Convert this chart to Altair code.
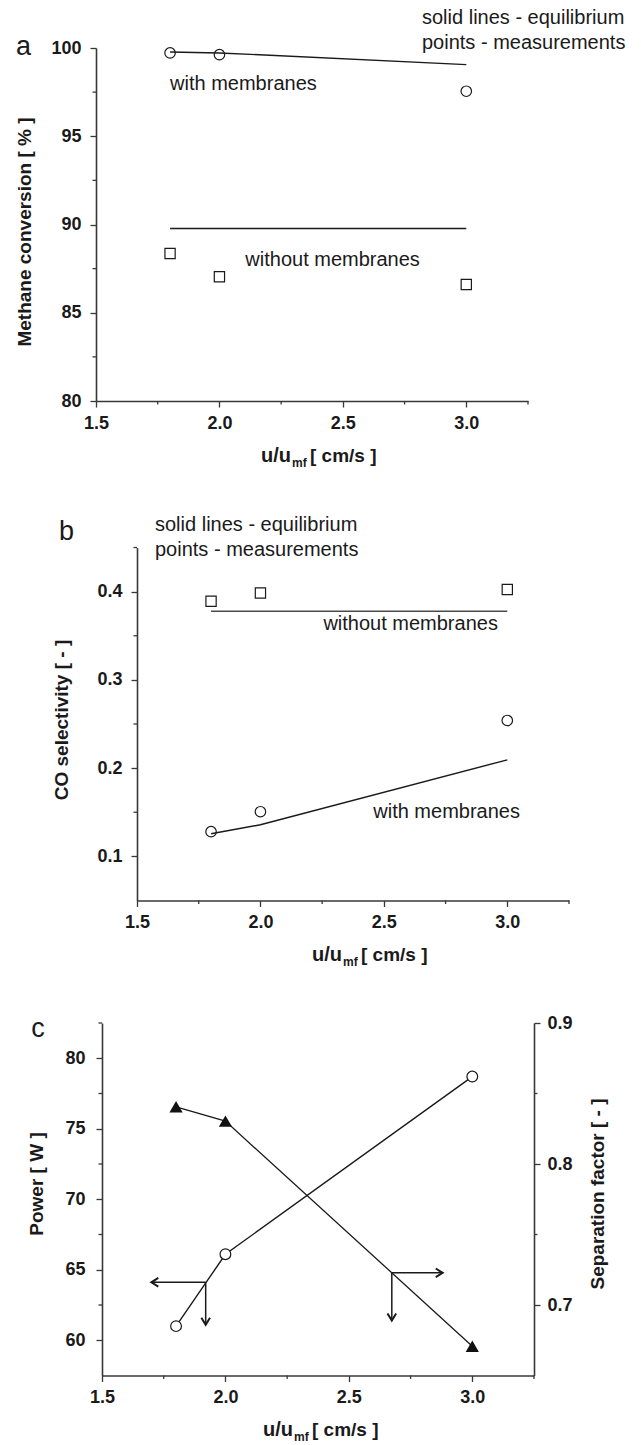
import altair as alt
import pandas as pd

# ------------------------------------------------------------------ data
u_values = [1.8, 2.0, 3.0]

# panel a - methane conversion [%]
conv_meas_with = [99.72, 99.62, 97.55]
conv_eq_with = [99.77, 99.72, 99.06]
conv_meas_without = [88.36, 87.04, 86.60]
conv_eq_without = [89.77, 89.77, 89.77]

# panel b - CO selectivity [-]
cosel_meas_without = [0.389, 0.3985, 0.4023]
cosel_eq_without = [0.3777, 0.3777, 0.3777]
cosel_meas_with = [0.128, 0.1506, 0.254]
cosel_eq_with = [0.1257, 0.1358, 0.2094]

# panel c - power [W] (left) and separation factor [-] (right)
power_w = [61.0, 66.1, 78.7]
separation_factor = [0.8406, 0.8304, 0.6708]

# axis-pointer arrows in panel c (power units)
arrow_x_start = [1.92, 1.92, 2.674, 2.674]
arrow_x_end = [1.70, 1.92, 2.88, 2.674]
arrow_y_start = [64.11, 64.11, 64.78, 64.78]
arrow_y_end = [64.11, 61.10, 64.78, 61.40]
arrow_dir = ["left", "down", "right", "down"]

# ticks
x_major = [1.5, 2.0, 2.5, 3.0]
x_minor = [1.75, 2.25, 2.75, 3.25]
a_major = [80, 85, 90, 95, 100]
a_minor = [82.5, 87.5, 92.5, 97.5]
b_major = [0.1, 0.2, 0.3, 0.4]
b_minor = [0.15, 0.25, 0.35, 0.45]
c_major = [60, 65, 70, 75, 80]
c_minor = [62.5, 67.5, 72.5, 77.5, 82.5]
r_major = [0.7, 0.8, 0.9]
r_minor = [0.75, 0.85]

# ------------------------------------------------------------------ layout / style
W, H = 641, 1445
FONT = "Liberation Sans"
INK = "#1a1a1a"
AXC = "#383838"

PA = dict(x0=96, x1=528, top=48, bot=401)
PB = dict(x0=137, x1=569, top=547.5, bot=900.5)
PC = dict(x0=102, x1=534, top=1023, bot=1375.5)

one = pd.DataFrame({"_": [0]})


def xscale(p):
    return alt.Scale(domain=[1.5, 3.25], range=[p["x0"], p["x1"]], nice=False, zero=False)


def yscale(p, dom):
    return alt.Scale(domain=dom, range=[p["bot"], p["top"]], nice=False, zero=False)


def x_axis(p):
    return alt.Axis(orient="bottom", offset=p["bot"] - H, values=x_major, format=".1f",
                    title=None, grid=False, labelFlush=False, labelOverlap=False,
                    tickSize=6, tickWidth=1.3, tickColor=AXC,
                    domainColor=AXC, domainWidth=1.6, labelPadding=7,
                    labelFont=FONT, labelFontSize=18, labelFontWeight="bold", labelColor=INK)


def y_axis(p, values, fmt, side="left", pad=9):
    off = -p["x0"] if side == "left" else p["x1"] - W
    return alt.Axis(orient=side, offset=off, values=values, format=fmt, title=None,
                    grid=False, labelFlush=False, labelOverlap=False,
                    tickSize=6, tickWidth=1.3, tickColor=AXC,
                    domainColor=AXC, domainWidth=1.6, labelPadding=pad,
                    labelFont=FONT, labelFontSize=18, labelFontWeight="bold", labelColor=INK)


def series(ys):
    return pd.DataFrame({"u": u_values, "v": ys})


def panel_layers(p, sx, ax, sy, ay, lines, circles, squares, minor_y, side="left",
                 with_x_minor=True):
    X = alt.X("u:Q", scale=sx, axis=ax)
    Y = alt.Y("v:Q", scale=sy, axis=ay)
    layers = []
    for ys, col in lines:
        layers.append(alt.Chart(series(ys)).mark_line(color=col, strokeWidth=1.4)
                      .encode(x=X, y=Y))
    for ys in circles:
        layers.append(alt.Chart(series(ys)).mark_point(shape="circle", filled=False, size=110,
                                                       stroke=INK, strokeWidth=1.2, opacity=1)
                      .encode(x=X, y=Y))
    for ys in squares:
        layers.append(alt.Chart(series(ys)).mark_point(shape="square", filled=False, size=105,
                                                       stroke=INK, strokeWidth=1.2, opacity=1)
                      .encode(x=X, y=Y))
    # minor ticks on the value axis
    if side == "left":
        xa, xb = p["x0"] - 3.5, p["x0"]
    else:
        xa, xb = p["x1"], p["x1"] + 3.5
    layers.append(alt.Chart(pd.DataFrame({"v": minor_y})).mark_rule(color=AXC, strokeWidth=1.3)
                  .encode(y=Y, x=alt.value(xa), x2=alt.value(xb)))
    if with_x_minor:
        layers.append(alt.Chart(pd.DataFrame({"u": x_minor})).mark_rule(color=AXC, strokeWidth=1.3)
                      .encode(x=X, y=alt.value(p["bot"]), y2=alt.value(p["bot"] + 3.5)))
    return layers


def data_text(txt, xv, yv, sx, ax, sy, ay, size=20, align="left"):
    return alt.Chart(one).mark_text(text=txt, font=FONT, fontSize=size, color=INK,
                                    align=align, baseline="middle").encode(
        x=alt.XDatum(xv, scale=sx, axis=ax, type="quantitative"),
        y=alt.YDatum(yv, scale=sy, axis=ay, type="quantitative"))


def px_text(txt, x, y, size=20, weight="normal", align="left", baseline="middle", angle=0):
    return alt.Chart(one).mark_text(text=txt, font=FONT, fontSize=size, fontWeight=weight,
                                    color=INK, align=align, baseline=baseline,
                                    angle=angle).encode(x=alt.value(x), y=alt.value(y))


def x_title(x0, y):
    return [
        px_text("u/u", x0 + 37, y, size=20, weight="bold", align="right"),
        px_text("mf", x0 + 38, y + 7, size=12, weight="bold"),
        px_text("[ cm/s ]", x0 + 56, y, size=19, weight="bold"),
    ]


# ------------------------------------------------------------------ panel a
sxa, sya = xscale(PA), yscale(PA, [80, 100])
axa, aya = x_axis(PA), y_axis(PA, a_major, "d")
pa = alt.layer(
    *panel_layers(PA, sxa, axa, sya, aya,
                  lines=[(conv_eq_with, INK), (conv_eq_without, INK)],
                  circles=[conv_meas_with], squares=[conv_meas_without], minor_y=a_minor),
    data_text("with membranes", 1.8, 97.98, sxa, axa, sya, aya),
    data_text("without membranes", 2.105, 88.0, sxa, axa, sya, aya),
)

# ------------------------------------------------------------------ panel b
sxb, syb = xscale(PB), yscale(PB, [0.05, 0.45])
axb, ayb = x_axis(PB), y_axis(PB, b_major, ".1f")
pb = alt.layer(
    *panel_layers(PB, sxb, axb, syb, ayb,
                  lines=[(cosel_eq_without, "#4a4a4a"), (cosel_eq_with, INK)],
                  circles=[cosel_meas_with], squares=[cosel_meas_without], minor_y=b_minor),
    data_text("without membranes", 2.255, 0.3634, sxb, axb, syb, ayb),
    data_text("with membranes", 2.457, 0.1502, sxb, axb, syb, ayb),
)

# ------------------------------------------------------------------ panel c
sxc = xscale(PC)
syc = yscale(PC, [57.5, 82.5])
syr = yscale(PC, [0.65, 0.9])
axc = x_axis(PC)
ayc = y_axis(PC, c_major, "d", pad=11)
ayr = y_axis(PC, r_major, ".1f", side="right", pad=7)

Xc = alt.X("u:Q", scale=sxc, axis=axc)

arrows = pd.DataFrame({"x": arrow_x_start, "x2": arrow_x_end,
                       "y": arrow_y_start, "y2": arrow_y_end, "dir": arrow_dir})
heads = pd.DataFrame({"x": arrow_x_end, "y": arrow_y_end, "dir": arrow_dir})
head_paths = ["M1.6,-1L0,0L1.6,1", "M-1,-1.6L0,0L1,-1.6", "M-1.6,-1L0,0L-1.6,1"]

c_left = alt.layer(
    *panel_layers(PC, sxc, axc, syc, ayc, lines=[(power_w, INK)], circles=[], squares=[],
                  minor_y=c_minor),
    alt.Chart(series(power_w)).mark_point(shape="circle", filled=True, fill="white", size=115,
                                          stroke=INK, strokeWidth=1.2, opacity=1)
    .encode(x=Xc, y=alt.Y("v:Q", scale=syc, axis=ayc)),
    alt.Chart(arrows).mark_rule(color=INK, strokeWidth=1.5).encode(
        x=alt.X("x:Q", scale=sxc, axis=axc), x2="x2:Q",
        y=alt.Y("y:Q", scale=syc, axis=ayc), y2="y2:Q"),
    alt.Chart(heads).mark_point(filled=False, size=75, stroke=INK, strokeWidth=2, opacity=1)
    .encode(x=alt.X("x:Q", scale=sxc, axis=axc),
            y=alt.Y("y:Q", scale=syc, axis=ayc),
            shape=alt.Shape("dir:N", scale=alt.Scale(domain=["left", "down", "right"],
                                                     range=head_paths), legend=None)),
)

Yr = alt.Y("v:Q", scale=syr, axis=ayr)
c_right = alt.layer(
    alt.Chart(series(separation_factor)).mark_line(color=INK, strokeWidth=1.3)
    .encode(x=Xc, y=Yr),
    alt.Chart(series(separation_factor)).mark_point(shape="triangle-up", filled=True, size=175,
                                                    color="#111111", opacity=1)
    .encode(x=Xc, y=Yr),
    alt.Chart(pd.DataFrame({"v": r_minor})).mark_rule(color=AXC, strokeWidth=1.3)
    .encode(y=Yr, x=alt.value(PC["x1"]), x2=alt.value(PC["x1"] + 3.5)),
)

pc = alt.layer(c_left, c_right).resolve_scale(y="independent")

# ------------------------------------------------------------------ free texts
texts = [
    px_text("a", 23.5, 55, size=27, align="center", baseline="alphabetic"),
    px_text("solid lines - equilibrium", 422, 18),
    px_text("points - measurements", 422, 43),
    px_text("Methane conversion  [ % ]", 25, 232, size=19, weight="bold", align="center",
            angle=270),
    *x_title(254, 456),

    px_text("b", 66.5, 540, size=27, align="center", baseline="alphabetic"),
    px_text("solid lines - equilibrium", 155, 525),
    px_text("points - measurements", 155, 550),
    px_text("CO selectivity  [ - ]", 62, 720, size=19, weight="bold", align="center", angle=270),
    *x_title(305, 955),

    px_text("c", 38, 1037, size=27, align="center", baseline="alphabetic"),
    px_text("Power  [ W ]", 37, 1184, size=19, weight="bold", align="center", angle=270),
    px_text("Separation factor [ - ]", 598, 1194, size=19, weight="bold", align="center",
            angle=270),
    *x_title(256, 1430),
]

chart = (
    alt.layer(pa, pb, pc, *texts)
    .resolve_scale(x="independent", y="independent")
    .properties(width=W, height=H, padding=0,
                autosize=alt.AutoSizeParams(type="none"), background="white")
    .configure_view(stroke=None)
)

chart.save("out.html", embed_options={"renderer": "svg", "actions": False})
